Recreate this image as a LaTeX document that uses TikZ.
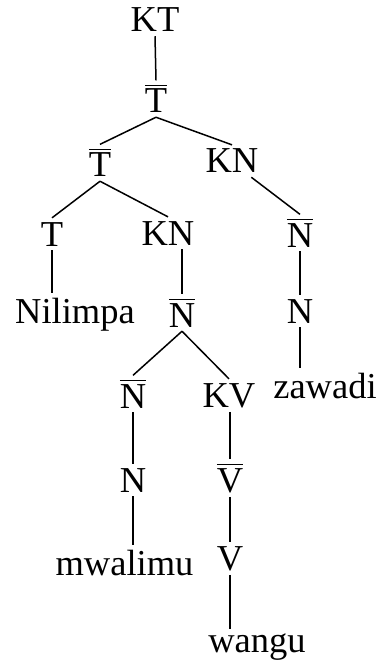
\documentclass[tikz,border=0pt]{standalone}
\usepackage{fontspec}
\setmainfont{Liberation Serif}
\newcommand\ovl[1]{\vbox{\hrule height 1.5pt\kern 3pt\hbox{#1}}}
\begin{document}
\begin{tikzpicture}[x=1pt,y=-1pt,
  lbl/.style={anchor=base,inner sep=3.5pt,font=\fontsize{36.5}{44}\selectfont},
  every path/.style={line width=1.5pt}]
  \useasboundingbox (0,0) rectangle (383,660);
  \node[lbl] (kt) at (155,32) {KT};
  \node[lbl] (tbarA) at (156,113) {\ovl{T}};
  \node[lbl] (tbarB) at (100,177) {\ovl{T}};
  \node[lbl] (knA) at (232,173) {KN};
  \node[lbl] (t) at (52,246) {T};
  \node[lbl] (knB) at (168,245) {KN};
  \node[lbl] (nilimpa) at (75,323) {Nilimpa};
  \node[lbl] (nbarB) at (182,327) {\ovl{N}};
  \node[lbl] (nbarA) at (300,247) {\ovl{N}};
  \node[lbl] (nA) at (300,323) {N};
  \node[lbl] (zawadi) at (325,398) {zawadi};
  \node[lbl] (nbarC) at (133,408) {\ovl{N}};
  \node[lbl] (kv) at (229,407) {KV};
  \node[lbl] (nC) at (133,492) {N};
  \node[lbl] (vbar) at (230,492) {\ovl{V}};
  \node[lbl] (mwalimu) at (124.5,575) {mwalimu};
  \node[lbl] (v) at (230,570) {V};
  \node[lbl] (wangu) at (257,652) {wangu};
  % branches
  \draw (kt.south) -- (tbarA.north);
  \draw (tbarA.south) -- (tbarB.north);
  \draw (tbarA.south) -- (knA.north);
  \draw (tbarB.south) -- (t.north);
  \draw (tbarB.south) -- (knB.north);
  \draw (t.south) -- (t.south |- nilimpa.north);
  \draw (knB.south -| nbarB.north) -- (nbarB.north);
  \draw (knA.320) -- (nbarA.north);
  \draw (nbarA.south) -- (nA.north);
  \draw (nA.south) -- (nA.south |- zawadi.north);
  \draw (nbarB.south) -- (nbarC.north);
  \draw (nbarB.south) -- (kv.north);
  \draw (nbarC.south) -- (nC.north);
  \draw (kv.south -| vbar.north) -- (vbar.north);
  \draw (nC.south) -- (nC.south |- mwalimu.north);
  \draw (vbar.south) -- (v.north);
  \draw (v.south) -- (v.south |- wangu.north);
\end{tikzpicture}
\end{document}
